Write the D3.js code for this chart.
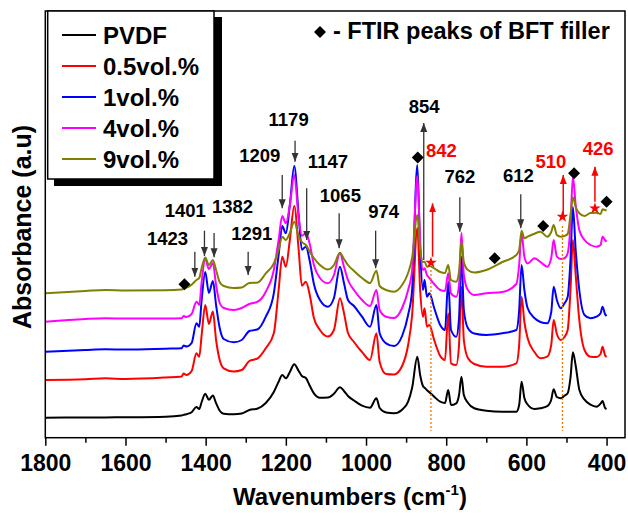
<!DOCTYPE html>
<html>
<head>
<meta charset="utf-8">
<script src="https://cdn.jsdelivr.net/npm/d3@7"></script>
<style>
  body { margin: 0; background: #fff; }
  text { font-family: Arial, "Liberation Sans", sans-serif; font-weight: bold; }
</style>
</head>
<body>
<svg id="chart" width="628" height="516"></svg>
<script>
// wavenumber grid (cm-1) shared by all spectra
const wavenumbers = [1800, 1700, 1650, 1600, 1500, 1460, 1455, 1448, 1435, 1423,
  1416, 1410, 1401, 1392, 1382, 1374, 1365, 1355, 1330, 1310,
  1291, 1270, 1250, 1230, 1218, 1209, 1200, 1190, 1179, 1168,
  1160, 1150, 1140, 1130, 1115, 1095, 1080, 1065, 1055, 1045,
  1030, 1010, 990, 974, 966, 950, 930, 910, 895, 885,
  872, 865, 858, 854, 848, 842, 830, 815, 803, 795,
  788, 775, 768, 762, 756, 746, 730, 700, 660, 625,
  618, 612, 605, 597, 580, 565, 548, 538, 532, 524,
  514, 505, 497, 490, 484, 477, 468, 455, 440, 425,
  415, 410, 404, 400];

// absorbance (a.u., stacked as plotted)
const pvdf = [0.200, 0.202, 0.203, 0.204, 0.209, 0.222, 0.228, 0.235, 0.255, 0.307,
  0.287, 0.357, 0.439, 0.380, 0.422, 0.345, 0.270, 0.240, 0.234, 0.242,
  0.277, 0.292, 0.347, 0.457, 0.560, 0.627, 0.594, 0.657, 0.734, 0.667,
  0.617, 0.597, 0.517, 0.444, 0.400, 0.402, 0.440, 0.504, 0.467, 0.417,
  0.372, 0.320, 0.300, 0.394, 0.297, 0.252, 0.244, 0.280, 0.360, 0.500,
  0.810, 0.627, 0.517, 0.500, 0.475, 0.455, 0.410, 0.360, 0.347, 0.477,
  0.327, 0.344, 0.427, 0.610, 0.427, 0.350, 0.294, 0.270, 0.260, 0.260,
  0.327, 0.560, 0.397, 0.332, 0.287, 0.295, 0.315, 0.380, 0.484, 0.407,
  0.394, 0.420, 0.444, 0.600, 0.854, 0.720, 0.480, 0.380, 0.330, 0.310,
  0.340, 0.367, 0.300, 0.287];
const vol05 = [0.577, 0.584, 0.594, 0.587, 0.602, 0.612, 0.642, 0.627, 0.667, 0.844,
  0.810, 1.027, 1.327, 1.137, 1.262, 0.977, 0.777, 0.694, 0.662, 0.677,
  0.767, 0.794, 0.894, 1.044, 1.477, 1.810, 1.710, 1.977, 2.317, 1.877,
  1.520, 1.560, 1.420, 1.197, 1.077, 1.012, 1.077, 1.394, 1.247, 1.047,
  0.957, 0.857, 0.777, 1.044, 0.757, 0.637, 0.632, 0.717, 0.927, 1.227,
  2.097, 1.477, 1.210, 1.294, 1.110, 1.127, 0.977, 0.817, 0.777, 1.244,
  0.744, 0.727, 0.927, 1.510, 0.977, 0.797, 0.737, 0.710, 0.710, 0.744,
  0.927, 1.410, 1.157, 0.997, 0.857, 0.794, 0.810, 0.927, 1.177, 1.037,
  0.977, 1.007, 1.077, 1.477, 1.977, 1.627, 1.177, 0.877, 0.810, 0.807,
  0.837, 0.910, 0.827, 0.807];
const vol1 = [0.860, 0.877, 0.884, 0.882, 0.890, 0.894, 0.922, 0.912, 0.947, 1.144,
  1.110, 1.377, 1.657, 1.447, 1.567, 1.327, 1.097, 0.987, 0.954, 0.977,
  1.067, 1.084, 1.210, 1.444, 1.827, 2.117, 2.044, 2.327, 2.717, 2.227,
  1.880, 1.910, 1.760, 1.537, 1.377, 1.310, 1.397, 1.710, 1.547, 1.377,
  1.317, 1.210, 1.110, 1.327, 1.044, 0.944, 0.917, 1.017, 1.227, 1.477,
  2.727, 1.877, 1.477, 1.577, 1.410, 1.444, 1.297, 1.127, 1.077, 1.560,
  1.077, 1.010, 1.197, 1.810, 1.277, 1.097, 1.042, 1.027, 1.044, 1.077,
  1.277, 1.727, 1.477, 1.297, 1.197, 1.157, 1.144, 1.257, 1.510, 1.377,
  1.294, 1.344, 1.407, 1.777, 2.307, 1.877, 1.477, 1.227, 1.194, 1.210,
  1.244, 1.310, 1.237, 1.217];
const vol4 = [1.160, 1.187, 1.194, 1.191, 1.192, 1.194, 1.217, 1.207, 1.237, 1.360,
  1.327, 1.557, 1.787, 1.687, 1.747, 1.527, 1.347, 1.297, 1.277, 1.297,
  1.337, 1.360, 1.460, 1.677, 1.977, 2.217, 2.144, 2.327, 2.627, 2.197,
  2.020, 2.044, 1.930, 1.727, 1.597, 1.544, 1.627, 1.844, 1.710, 1.577,
  1.477, 1.377, 1.317, 1.477, 1.277, 1.210, 1.197, 1.297, 1.477, 1.677,
  2.617, 1.977, 1.677, 1.694, 1.627, 1.597, 1.537, 1.477, 1.467, 1.644,
  1.444, 1.410, 1.527, 2.050, 1.627, 1.477, 1.427, 1.444, 1.457, 1.537,
  1.727, 2.044, 1.810, 1.744, 1.794, 1.757, 1.710, 1.797, 1.977, 1.810,
  1.787, 1.794, 1.844, 2.127, 2.610, 2.327, 2.077, 1.977, 1.927, 1.910,
  1.927, 2.010, 1.977, 1.960];
const vol9 = [1.444, 1.467, 1.477, 1.472, 1.474, 1.482, 1.490, 1.500, 1.530, 1.577,
  1.597, 1.697, 1.802, 1.727, 1.777, 1.677, 1.557, 1.517, 1.497, 1.502,
  1.547, 1.552, 1.644, 1.744, 1.877, 2.010, 1.977, 2.047, 2.160, 2.017,
  1.957, 1.927, 1.857, 1.797, 1.727, 1.682, 1.727, 1.850, 1.787, 1.727,
  1.667, 1.597, 1.547, 1.670, 1.517, 1.477, 1.460, 1.527, 1.647, 1.797,
  2.227, 1.877, 1.757, 1.760, 1.710, 1.717, 1.694, 1.657, 1.647, 1.727,
  1.577, 1.560, 1.657, 1.960, 1.757, 1.677, 1.652, 1.677, 1.757, 1.827,
  1.877, 2.070, 1.994, 2.010, 2.040, 2.060, 2.010, 2.057, 2.127, 2.027,
  2.010, 2.017, 2.037, 2.227, 2.404, 2.307, 2.244, 2.217, 2.247, 2.250,
  2.237, 2.284, 2.277, 2.272];

const seriesNames = ["PVDF", "0.5vol.%", "1vol.%", "4vol.%", "9vol.%"];
const seriesValues = [pvdf, vol05, vol1, vol4, vol9];
const seriesColors = ["#000000", "#ff0000", "#0000ff", "#ff00ff", "#808000"];

const majorTicks = [1800, 1600, 1400, 1200, 1000, 800, 600, 400];
const minorTicks = [1700, 1500, 1300, 1100, 900, 700, 500];

// BFT filler peaks marked with diamonds [wavenumber, absorbance]
const fillerPeaks = [[1453, 1.534], [871, 2.802], [679, 1.794], [558, 2.117], [481, 2.644], [400, 2.36]];

// peak labels: text, label spot (wn, a.u.), arrow wn, arrow from -> to (a.u.)
const peakNotes = [
  {text: "1423", lx: 1495, ly: 1.927, ax: 1427, a0: 1.860, a1: 1.610, red: false},
  {text: "1401", lx: 1451, ly: 2.204, ax: 1403, a0: 2.070, a1: 1.817, red: false},
  {text: "1382", lx: 1333, ly: 2.244, ax: 1379, a0: 2.047, a1: 1.804, red: false},
  {text: "1291", lx: 1285, ly: 1.977, ax: 1294, a0: 1.860, a1: 1.627, red: false},
  {text: "1209", lx: 1265, ly: 2.760, ax: 1209, a0: 2.627, a1: 2.294, red: false},
  {text: "1179", lx: 1193, ly: 3.117, ax: 1177, a0: 2.970, a1: 2.760, red: false},
  {text: "1147", lx: 1095, ly: 2.694, ax: 1148, a0: 2.494, a1: 1.977, red: false},
  {text: "1065", lx: 1064, ly: 2.360, ax: 1067, a0: 2.244, a1: 1.894, red: false},
  {text: "974", lx: 956, ly: 2.194, ax: 976, a0: 2.070, a1: 1.694, red: false},
  {text: "854", lx: 855, ly: 3.247, ax: 856, a0: 1.777, a1: 3.147, red: false},
  {text: "842", lx: 812, ly: 2.812, ax: 834, a0: 1.810, a1: 2.344, red: true},
  {text: "762", lx: 766, ly: 2.550, ax: 766, a0: 2.404, a1: 2.060, red: false},
  {text: "612", lx: 620, ly: 2.560, ax: 614, a0: 2.434, a1: 2.094, red: false},
  {text: "510", lx: 539, ly: 2.697, ax: 508, a0: 2.227, a1: 2.627, red: true},
  {text: "426", lx: 421, ly: 2.827, ax: 429, a0: 2.360, a1: 2.710, red: true}
];
// new peaks of the composites: star [wn, a.u.] and dotted guide down to the axis
const newPeaks = [[838, 1.750, 1.677], [510, 2.210, 2.117], [429, 2.294, null]];

const svg = d3.select("#chart");
const plotLeft = 45.3, plotRight = 625, plotTop = 11, plotBottom = 437.7;

const x = d3.scaleLinear().domain([1800, 354]).range([plotLeft, plotRight]);
const y = d3.scaleLinear().domain([0, 4.267]).range([plotBottom, plotTop]);

const defs = svg.append("defs");
defs.append("clipPath").attr("id", "plotClip")
  .append("rect").attr("x", plotLeft).attr("y", plotTop)
  .attr("width", plotRight - plotLeft).attr("height", plotBottom - plotTop);
[["headBlack", "#333"], ["headRed", "#ff0000"]].forEach(([id, c]) => {
  defs.append("marker").attr("id", id)
    .attr("viewBox", "0 -4 9 8").attr("refX", 9).attr("refY", 0)
    .attr("markerUnits", "userSpaceOnUse").attr("markerWidth", 9).attr("markerHeight", 8)
    .attr("orient", "auto")
    .append("path").attr("d", "M0,-3.5L9,0L0,3.5Z").attr("fill", c);
});

// spectra
const line = d3.line()
  .x(d => x(d[0]))
  .y(d => y(d[1]))
  .curve(d3.curveMonotoneX);

const plot = svg.append("g").attr("clip-path", "url(#plotClip)");
seriesValues.forEach((vals, i) => {
  plot.append("path")
    .datum(wavenumbers.map((w, j) => [w, vals[j]]))
    .attr("fill", "none")
    .attr("stroke", seriesColors[i])
    .attr("stroke-width", 2)
    .attr("stroke-linejoin", "round")
    .attr("d", line);
});

// dotted guides
newPeaks.filter(p => p[2] !== null).forEach(p => {
  svg.append("line")
    .attr("x1", x(p[0])).attr("x2", x(p[0]))
    .attr("y1", y(p[2])).attr("y2", y(0.067))
    .attr("stroke", "#f07800").attr("stroke-width", 1.3)
    .attr("stroke-dasharray", "2,2");
});

// x axis
const axisMajor = d3.axisBottom(x).tickValues(majorTicks).tickSize(8).tickSizeOuter(0)
  .tickPadding(9).tickFormat(d3.format("d"));
const gx = svg.append("g").attr("transform", `translate(0,${plotBottom})`).call(axisMajor);
gx.select(".domain").remove();
gx.selectAll("line").attr("stroke", "#000").attr("stroke-width", 1.5);
gx.selectAll("text").attr("font-size", 23).attr("fill", "#000")
  .style("font-family", "Arial, 'Liberation Sans', sans-serif").style("font-weight", "bold");

const axisMinor = d3.axisBottom(x).tickValues(minorTicks).tickSize(5).tickSizeOuter(0).tickFormat("");
const gm = svg.append("g").attr("transform", `translate(0,${plotBottom})`).call(axisMinor);
gm.select(".domain").remove();
gm.selectAll("line").attr("stroke", "#000").attr("stroke-width", 1.5);

// frame
svg.append("rect")
  .attr("x", plotLeft).attr("y", plotTop)
  .attr("width", plotRight - plotLeft).attr("height", plotBottom - plotTop)
  .attr("fill", "none").attr("stroke", "#000").attr("stroke-width", 1.5);

// axis titles
const xt = svg.append("text").attr("x", 350).attr("y", 505).attr("text-anchor", "middle").attr("font-size", 24);
xt.append("tspan").text("Wavenumbers (cm");
xt.append("tspan").attr("font-size", 15).attr("dy", -10).text("-1");
xt.append("tspan").attr("dy", 10).text(")");

svg.append("text")
  .attr("transform", "translate(31,227) rotate(-90)")
  .attr("text-anchor", "middle").attr("font-size", 25)
  .text("Absorbance (a.u)");

// peak arrows and labels
peakNotes.forEach(n => {
  const c = n.red ? "#ff0000" : "#333";
  svg.append("line")
    .attr("x1", x(n.ax)).attr("x2", x(n.ax))
    .attr("y1", y(n.a0)).attr("y2", y(n.a1))
    .attr("stroke", c).attr("stroke-width", n.red ? 1.5 : 1.3)
    .attr("marker-end", n.red ? "url(#headRed)" : "url(#headBlack)");
  svg.append("text")
    .attr("x", x(n.lx)).attr("y", y(n.ly))
    .attr("text-anchor", "middle").attr("font-size", 18.5)
    .attr("fill", n.red ? "#ff0000" : "#000")
    .text(n.text);
});

// stars
svg.selectAll(".star").data(newPeaks).enter().append("path")
  .attr("class", "star")
  .attr("transform", d => `translate(${x(d[0])},${y(d[1])})`)
  .attr("d", d3.symbol(d3.symbolStar, 42))
  .attr("fill", "#ff0000");

// diamonds
const diamond = d3.symbol(d3.symbolSquare, 72);
svg.selectAll(".dia").data(fillerPeaks).enter().append("path")
  .attr("class", "dia")
  .attr("transform", d => `translate(${x(d[0])},${y(d[1])}) rotate(45)`)
  .attr("d", diamond)
  .attr("fill", "#000");

// filler note
svg.append("path").attr("transform", "translate(320,32) rotate(45)").attr("d", diamond).attr("fill", "#000");
svg.append("text").attr("x", 333).attr("y", 39).attr("font-size", 23.5).text("- FTIR peaks of BFT filler");

// legend
const lg = svg.append("g");
lg.append("rect").attr("x", 54).attr("y", 17).attr("width", 168).attr("height", 169).attr("fill", "#000");
lg.append("rect").attr("x", 47.7).attr("y", 11).attr("width", 166.3).attr("height", 168)
  .attr("fill", "#fff").attr("stroke", "#000").attr("stroke-width", 1.5);
seriesNames.forEach((name, i) => {
  const ly = 35 + i * 31;
  lg.append("line").attr("x1", 62).attr("x2", 96).attr("y1", ly).attr("y2", ly)
    .attr("stroke", seriesColors[i]).attr("stroke-width", 1.8);
  lg.append("text").attr("x", 103).attr("y", ly + 8.5).attr("font-size", 24).text(name);
});
</script>
</body>
</html>
